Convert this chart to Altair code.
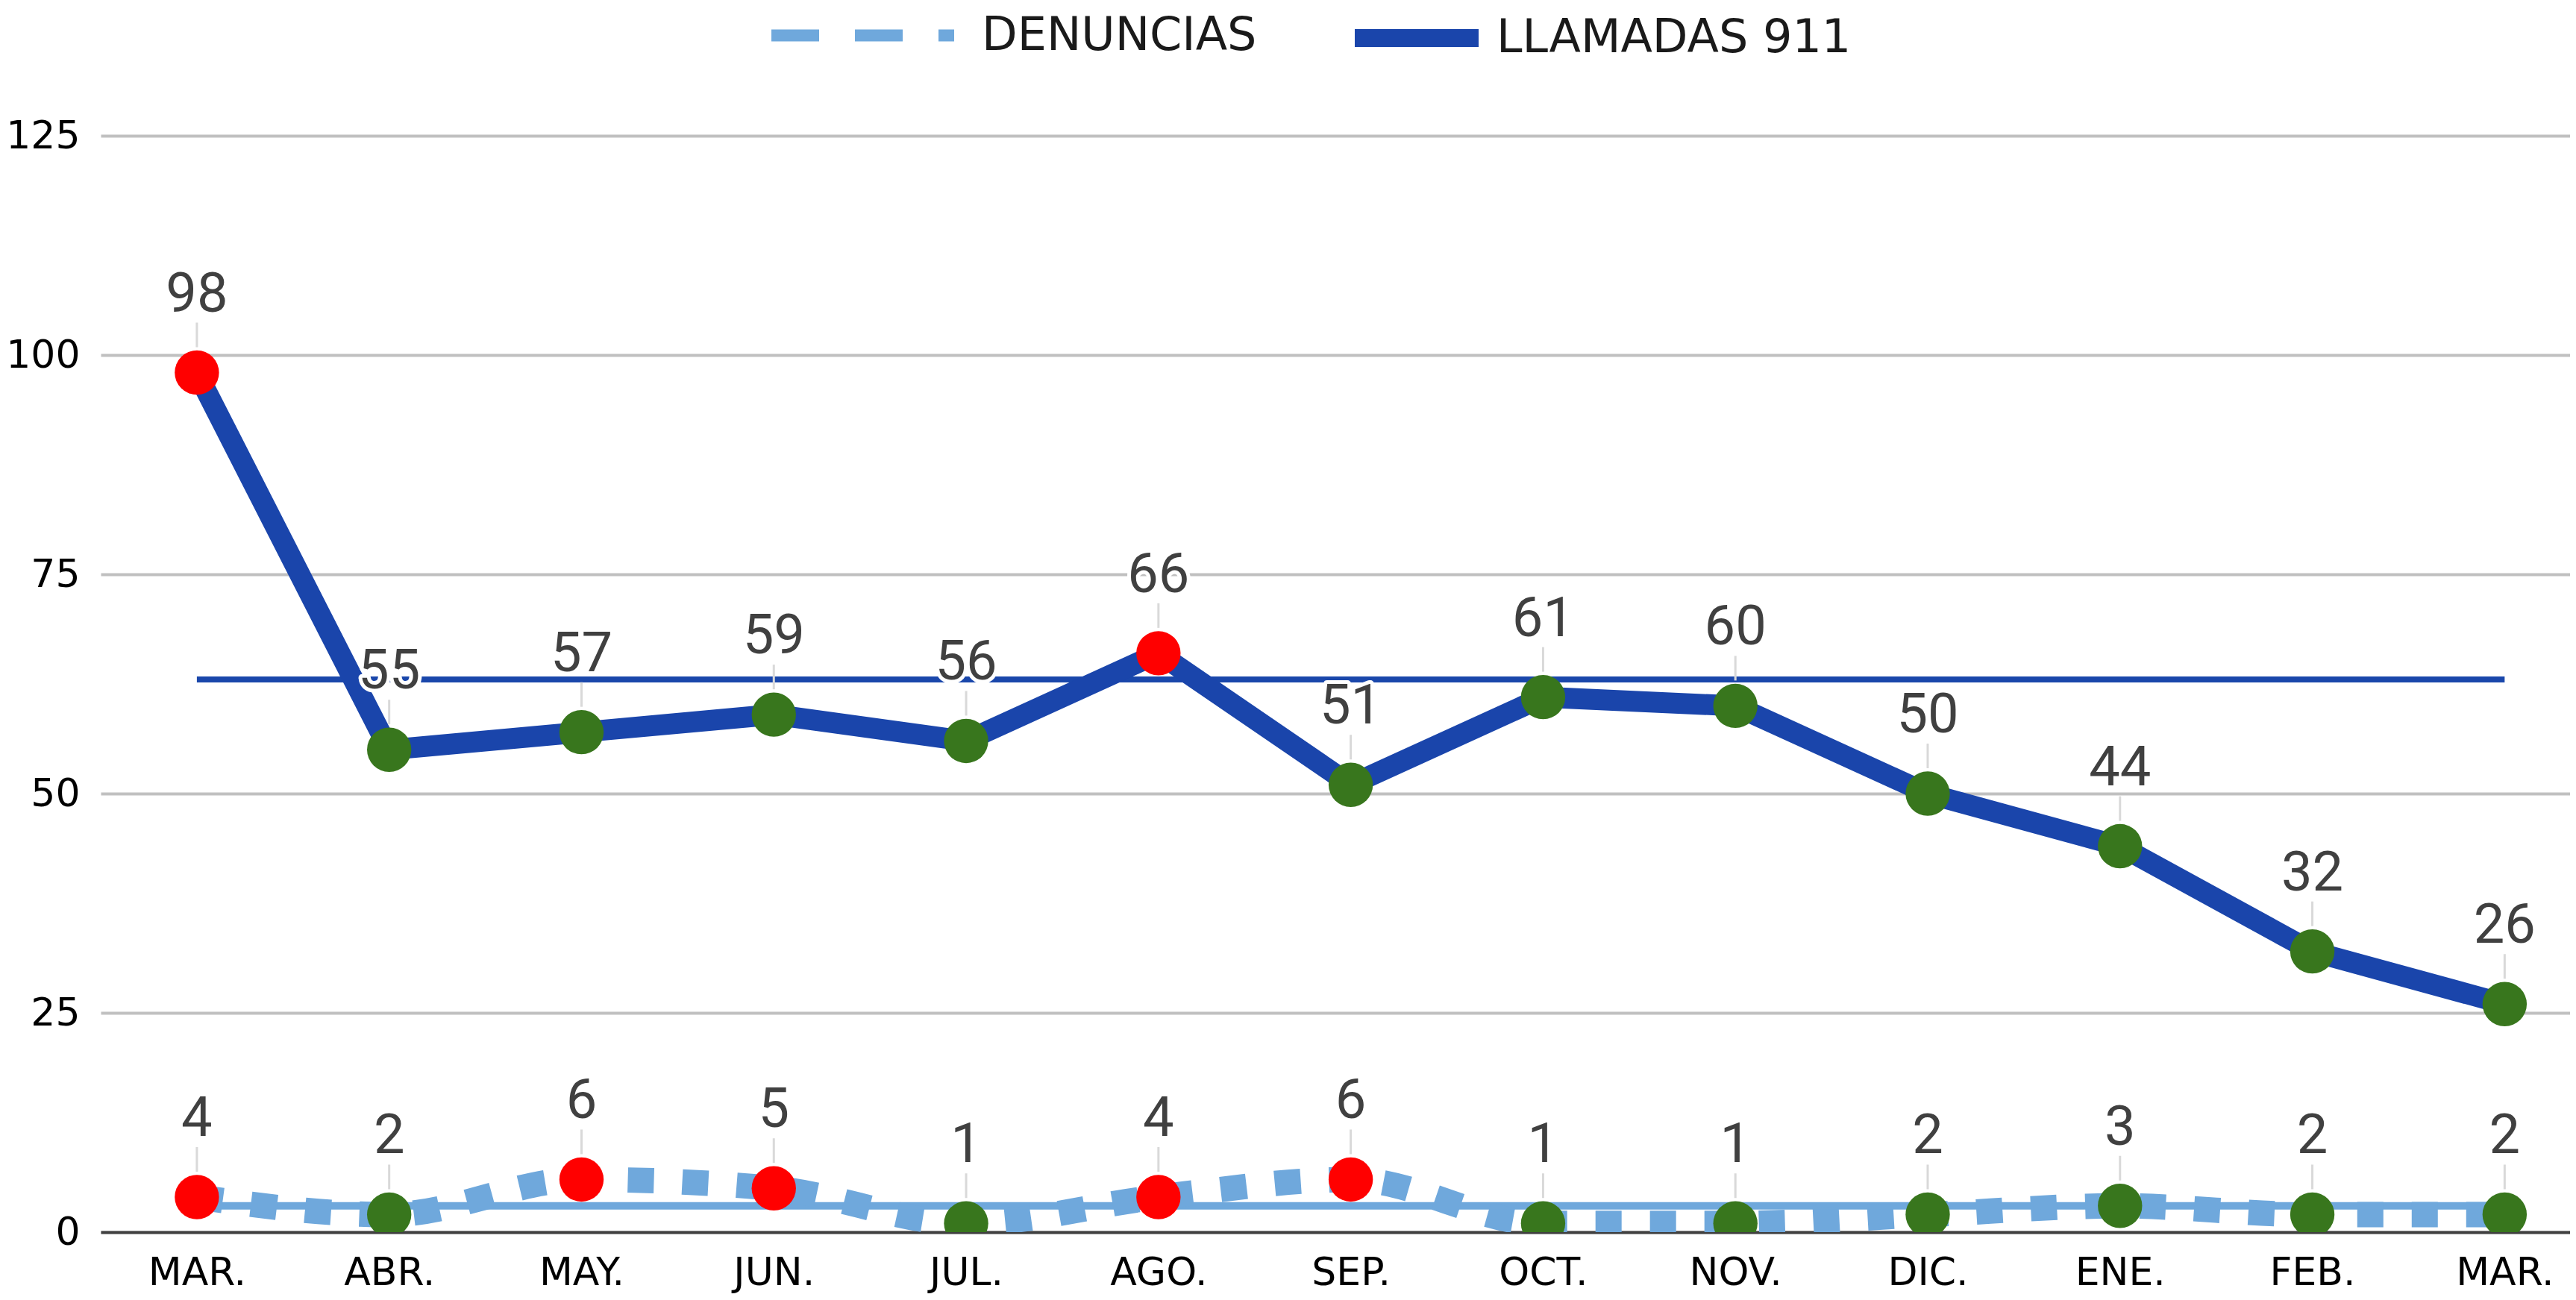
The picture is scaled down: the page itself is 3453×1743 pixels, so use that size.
import json
import altair as alt
import pandas as pd

# ---- data ----
MESES = ["MAR.", "ABR.", "MAY.", "JUN.", "JUL.", "AGO.", "SEP.", "OCT.", "NOV.", "DIC.", "ENE.", "FEB.", "MAR."]
LLAMADAS = [98, 55, 57, 59, 56, 66, 51, 61, 60, 50, 44, 32, 26]
DENUNCIAS = [4, 2, 6, 5, 1, 4, 6, 1, 1, 2, 3, 2, 2]
REF_LLAMADAS = 63
REF_DENUNCIAS = 3
Y_TICKS = [0, 25, 50, 75, 100, 125]
SERIES = ["DENUNCIAS", "LLAMADAS 911"]

FONT = "DejaVu Sans"

rows = []
for i, m in enumerate(MESES):
    rows.append(dict(i=i, mes=m, serie=SERIES[1], valor=LLAMADAS[i], ref=REF_LLAMADAS))
    rows.append(dict(i=i, mes=m, serie=SERIES[0], valor=DENUNCIAS[i], ref=REF_DENUNCIAS))
df = pd.DataFrame(rows)
df_ll = df[df.serie == SERIES[1]]
df_de = df[df.serie == SERIES[0]]

label_expr = json.dumps(MESES) + "[datum.value]"

X = alt.X(
    "i:Q",
    scale=alt.Scale(domain=[-0.5, 12.34], nice=False, zero=False),
    axis=alt.Axis(
        values=list(range(len(MESES))), labelExpr=label_expr, grid=False, ticks=False,
        domainColor="#404040", domainWidth=4, labelFont=FONT, labelFontSize=52,
        labelColor="#000000", labelPadding=29, title=None, labelFlush=False,
    ),
)
Y = alt.Y(
    "valor:Q",
    scale=alt.Scale(domain=[0, 125], nice=False),
    axis=alt.Axis(
        values=Y_TICKS, grid=True, gridColor="#c0c0c0", gridWidth=4, domain=False,
        ticks=False, labelFont=FONT, labelFontSize=52, labelColor="#000000",
        labelPadding=28, title=None,
    ),
)
Yref = alt.Y("ref:Q")

ref_ll = alt.Chart(df_ll).mark_line(color="#1a47ab", strokeWidth=8).encode(x=X, y=Yref)
ref_de = alt.Chart(df_de).mark_line(color="#6fa8dc", strokeWidth=10).encode(x=X, y=Yref)

line_de = alt.Chart(df_de).mark_line(
    strokeWidth=34, strokeDash=[35, 38], interpolate="monotone", strokeCap="butt", clip=True
).encode(
    x=X, y=Y,
    color=alt.Color(
        "serie:N",
        scale=alt.Scale(domain=[SERIES[0]], range=["#6fa8dc"]),
        legend=alt.Legend(
            orient="none", legendX=891, legendY=-265, direction="horizontal", title=None,
            symbolType="stroke", symbolSize=245 * 245, symbolStrokeWidth=16,
            symbolDash=[64, 48], labelOffset=29, labelFont=FONT, labelFontSize=62,
            labelColor="#1a1a1a", padding=0, labelLimit=0,
        ),
    ),
)

line_ll = alt.Chart(df_ll).mark_line(strokeWidth=28, clip=True).encode(
    x=X, y=Y,
    color=alt.Color(
        "serie:N",
        scale=alt.Scale(domain=[SERIES[1]], range=["#1a45ab"]),
        legend=alt.Legend(
            orient="none", legendX=1669, legendY=-226, direction="horizontal", title=None,
            symbolType="stroke", symbolSize=166 * 166, symbolStrokeWidth=24,
            symbolStrokeColor="#002c6a", labelOffset=12, labelFont=FONT, labelFontSize=62,
            labelColor="#1a1a1a", padding=0, labelLimit=0,
        ),
    ),
)

points = alt.Chart(df).mark_circle(size=3526, opacity=1, clip=True).encode(
    x=X, y=Y,
    color=alt.condition(alt.datum.valor > alt.datum.ref, alt.value("#ff0000"), alt.value("#38761d")),
)

leaders = alt.Chart(df).mark_rule(color="#d9d9d9", strokeWidth=3, yOffset=-67, y2Offset=-34).encode(
    x=X, y=Y, y2=alt.Y2("valor:Q")
)

halo = alt.Chart(df).mark_text(
    font="Roboto", fontSize=74, dy=-104, baseline="middle", fill="white",
    stroke="white", strokeWidth=10, strokeJoin="round",
).encode(x=X, y=Y, text="valor:Q")

labels = alt.Chart(df).mark_text(
    font="Roboto", fontSize=74, dy=-104, baseline="middle", color="#404040"
).encode(x=X, y=Y, text="valor:Q")

chart = alt.layer(
    ref_ll, ref_de, line_de, line_ll, points, leaders, halo, labels
).resolve_scale(color="independent").properties(
    width=3310, height=1470,
    padding={"left": 127, "top": 174, "right": 0, "bottom": 83},
    autosize=alt.AutoSizeParams(type="none"),
).configure_view(strokeWidth=0)

chart.save("out.html", embed_options={"renderer": "svg", "actions": False})
